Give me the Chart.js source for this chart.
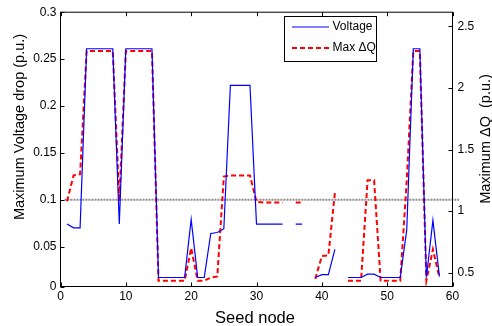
<!DOCTYPE html>
<html>
<head>
<meta charset="utf-8">
<script src="https://cdn.jsdelivr.net/npm/chart.js@4.4.1/dist/chart.umd.min.js"></script>
<style>
  html, body { margin: 0; padding: 0; background: #fff; }
  canvas { display: block; }
</style>
</head>
<body>
<canvas id="seedChart" width="492" height="326"></canvas>
<script>
// seed nodes 1..58
const seedNodes = [1, 2, 3, 4, 5, 6, 7, 8, 9, 10, 11, 12, 13, 14, 15, 16, 17, 18, 19, 20,
  21, 22, 23, 24, 25, 26, 27, 28, 29, 30, 31, 32, 33, 34, 35, 36, 37, 38, 39, 40,
  41, 42, 43, 44, 45, 46, 47, 48, 49, 50, 51, 52, 53, 54, 55, 56, 57, 58];

// maximum voltage drop (p.u.), left axis
const voltageDrop = [0.074, 0.07, 0.07, 0.261, 0.261, 0.261, 0.261, 0.261, 0.074, 0.261,
  0.261, 0.261, 0.261, 0.261, 0.017, 0.017, 0.017, 0.017, 0.017, 0.079,
  0.017, 0.017, 0.064, 0.065, 0.069, 0.222, 0.222, 0.222, 0.222, 0.074,
  0.074, 0.074, 0.074, 0.074, null, 0.074, 0.074, null, 0.017, 0.02,
  0.02, 0.047, null, 0.017, 0.017, 0.017, 0.0205, 0.0205, 0.017, 0.017,
  0.017, 0.017, 0.068, 0.261, 0.261, 0.017, 0.078, 0.018];

// maximum delta Q (p.u.), right axis
const maxDeltaQ = [1.08, 1.29, 1.3, 2.3, 2.3, 2.3, 2.3, 2.3, 1.08, 2.3,
  2.3, 2.3, 2.3, 2.3, 0.435, 0.435, 0.435, 0.435, 0.435, 0.7,
  0.435, 0.435, 0.46, 0.47, 1.28, 1.29, 1.29, 1.29, 1.29, 1.075,
  1.07, 1.07, 1.07, 1.07, null, 1.07, 1.07, null, 0.45, 0.635,
  0.64, 1.15, null, 0.435, 0.435, 0.435, 1.25, 1.25, 0.435, 0.435,
  0.435, 0.435, 1.25, 2.3, 2.3, 0.435, 0.69, 0.46];

// dotted reference line at 0.1 p.u.
const thresholdX = [0.6, 61];
const thresholdY = [0.1, 0.1];

const xTicks = [0, 10, 20, 30, 40, 50, 60];
const leftTicks = [0, 0.05, 0.1, 0.15, 0.2, 0.25, 0.3];
const rightTicks = [0.5, 1, 1.5, 2, 2.5];

const xTitle = 'Seed node';
const yTitle = 'Maximum Voltage drop (p.u.)';
const y1Title = 'Maximum \u0394Q  (p.u.)';

const fontFamily = '"Liberation Sans", Arial, Helvetica, sans-serif';
Chart.defaults.font.family = fontFamily;
Chart.defaults.font.size = 12;
Chart.defaults.color = '#000';

// MATLAB-like box, inward ticks, axis titles and legend
const matlabFrame = {
  id: 'matlabFrame',
  afterDraw(chart) {
    const ctx = chart.ctx;
    const a = chart.chartArea;
    const sx = chart.scales.x, sy = chart.scales.y, sy1 = chart.scales.y1;
    const tl = 4;
    ctx.save();
    ctx.strokeStyle = '#000';
    ctx.lineWidth = 1;
    ctx.setLineDash([]);
    ctx.strokeRect(a.left, a.top, a.right - a.left, a.bottom - a.top);

    ctx.beginPath();
    sx.ticks.forEach(t => {
      const p = Math.round(sx.getPixelForValue(t.value)) + 0.5;
      ctx.moveTo(p, a.bottom); ctx.lineTo(p, a.bottom - tl);
      ctx.moveTo(p, a.top); ctx.lineTo(p, a.top + tl);
    });
    sy.ticks.forEach(t => {
      const p = Math.round(sy.getPixelForValue(t.value)) + 0.5;
      ctx.moveTo(a.left, p); ctx.lineTo(a.left + tl, p);
    });
    sy1.ticks.forEach(t => {
      const p = Math.round(sy1.getPixelForValue(t.value)) + 0.5;
      ctx.moveTo(a.right, p); ctx.lineTo(a.right - tl, p);
    });
    ctx.stroke();

    // axis titles
    ctx.fillStyle = '#000';
    ctx.textAlign = 'center';
    ctx.textBaseline = 'middle';
    ctx.font = '16.5px ' + fontFamily;
    ctx.fillText(xTitle, 255, 318);
    ctx.font = '14.5px ' + fontFamily;
    ctx.save();
    ctx.translate(20, 127);
    ctx.rotate(-Math.PI / 2);
    ctx.fillText(yTitle, 0, 0);
    ctx.restore();
    ctx.save();
    ctx.translate(486, 139);
    ctx.rotate(-Math.PI / 2);
    ctx.fillText(y1Title, 0, 0);
    ctx.restore();

    // legend box
    const bx = 284.5, by = 16.5, bw = 92, bh = 45;
    ctx.fillStyle = '#fff';
    ctx.fillRect(bx, by, bw, bh);
    ctx.strokeStyle = '#000';
    ctx.lineWidth = 1;
    ctx.strokeRect(bx, by, bw, bh);
    const rows = [27, 48];
    chart.data.datasets.slice(0, 2).forEach((ds, i) => {
      ctx.beginPath();
      ctx.strokeStyle = ds.borderColor;
      ctx.lineWidth = ds.borderWidth;
      ctx.setLineDash(ds.borderDash || []);
      ctx.moveTo(292, rows[i]);
      ctx.lineTo(329, rows[i]);
      ctx.stroke();
      ctx.setLineDash([]);
      ctx.fillStyle = '#000';
      ctx.font = '12px ' + fontFamily;
      ctx.textAlign = 'left';
      ctx.textBaseline = 'middle';
      ctx.fillText(ds.label, 332.5, rows[i]);
    });
    ctx.restore();
  }
};

const ctx = document.getElementById('seedChart').getContext('2d');
const seedChart = new Chart(ctx, {
  type: 'line',
  data: {
    datasets: [{
      label: 'Voltage',
      data: seedNodes.map((n, i) => ({ x: n, y: voltageDrop[i] })),
      yAxisID: 'y',
      borderColor: 'rgb(0, 0, 255)',
      borderWidth: 1.2,
      pointRadius: 0,
      spanGaps: false
    }, {
      label: 'Max \u0394Q',
      data: seedNodes.map((n, i) => ({ x: n, y: maxDeltaQ[i] })),
      yAxisID: 'y1',
      borderColor: 'rgb(255, 0, 0)',
      borderWidth: 2,
      borderDash: [5, 3],
      pointRadius: 0,
      spanGaps: false
    }, {
      label: 'threshold',
      data: thresholdX.map((x, i) => ({ x: x, y: thresholdY[i] })),
      yAxisID: 'y',
      borderColor: 'rgba(120, 120, 120, 0.85)',
      borderWidth: 2,
      borderDash: [2, 1],
      pointRadius: 0,
      clip: false
    }]
  },
  options: {
    responsive: false,
    animation: false,
    devicePixelRatio: 1,
    layout: { padding: { top: 11.5, left: 0, right: 0, bottom: 0 } },
    plugins: {
      legend: { display: false },
      tooltip: { enabled: false }
    },
    scales: {
      x: {
        type: 'linear',
        min: 0,
        max: 60,
        afterBuildTicks: s => { s.ticks = xTicks.map(v => ({ value: v })); },
        afterFit: s => { s.height = 39.5; },
        grid: { display: false, drawTicks: false },
        border: { display: false },
        ticks: { padding: 3, autoSkip: false, maxRotation: 0, callback: (v, i) => String(xTicks[i]) }
      },
      y: {
        type: 'linear',
        position: 'left',
        min: 0.0074,
        max: 0.3,
        afterBuildTicks: s => { s.ticks = leftTicks.map(v => ({ value: Math.max(v, s.min) })); },
        afterFit: s => { s.width = 60.5; },
        grid: { display: false, drawTicks: false },
        border: { display: false },
        ticks: { padding: 4, autoSkip: false, callback: (v, i) => String(leftTicks[i]) }
      },
      y1: {
        type: 'linear',
        position: 'right',
        min: 0.388,
        max: 2.615,
        afterBuildTicks: s => { s.ticks = rightTicks.map(v => ({ value: v })); },
        afterFit: s => { s.width = 39.5; },
        grid: { display: false, drawTicks: false },
        border: { display: false },
        ticks: { padding: 5, autoSkip: false, callback: (v, i) => String(rightTicks[i]) }
      }
    }
  },
  plugins: [matlabFrame]
});
</script>
</body>
</html>
